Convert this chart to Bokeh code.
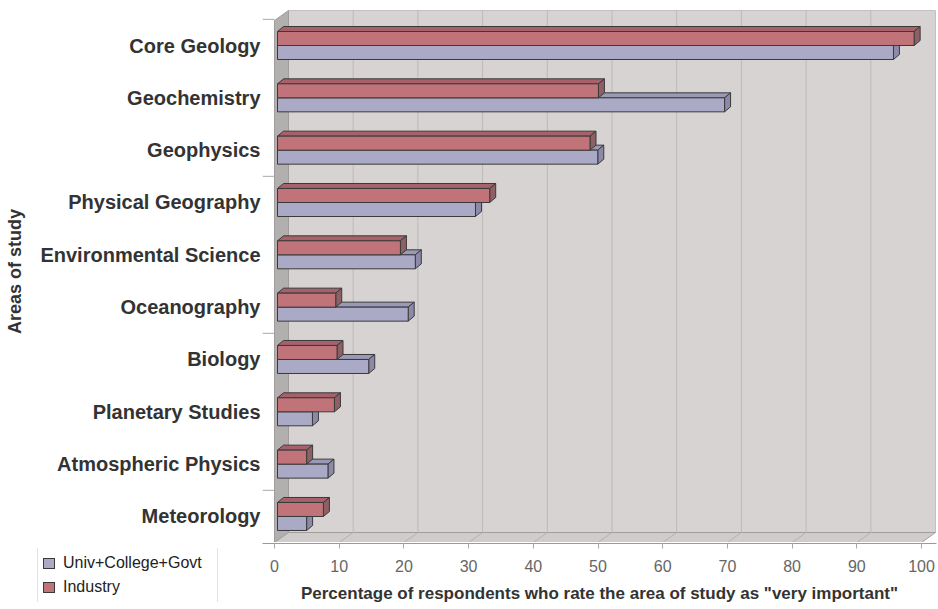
from bokeh.plotting import figure
from bokeh.layouts import column, row
from bokeh.models import Range1d, FixedTicker, ColumnDataSource, Div
from bokeh.embed import file_html
from bokeh.resources import INLINE

# ---------------- data ----------------
categories = ["Core Geology", "Geochemistry", "Geophysics", "Physical Geography",
              "Environmental Science", "Oceanography", "Biology", "Planetary Studies",
              "Atmospheric Physics", "Meteorology"]
industry = [98.4, 49.6, 48.3, 32.8, 19.0, 9.0, 9.2, 8.8, 4.5, 7.1]
univ = [95.2, 69.1, 49.5, 30.6, 21.3, 20.2, 14.1, 5.4, 7.8, 4.5]
series_names = ["Univ+College+Govt", "Industry"]
x_ticks = [0, 10, 20, 30, 40, 50, 60, 70, 80, 90, 100]
x_title = 'Percentage of respondents who rate the area of study as "very important"'
y_title = "Areas of study"

# ---------------- layout ----------------
W = 938
TOP_H = 542       # height of the chart part (frame bottom = floor front edge)
BOT_H = 67        # height of the axis / legend strip
FL = 262          # frame left (px)
FR = 2            # right border
FW = W - FL - FR  # frame width
S = 6.47          # px per percent
SY = 52.33        # px per category step
X0PX = 12         # px from frame left to value 0 on the front plane
TOPPX = 45        # px from frame top to first category centre

n = len(categories)
x_start = -X0PX / S
x_end = x_start + FW / S
y_end = (n - 1) + TOPPX / SY
y_start = y_end - TOP_H / SY

FONT = "Liberation Sans"
EDGE = "#3A3A3A"

p = figure(width=W, height=TOP_H, output_backend="svg", toolbar_location=None,
           x_range=Range1d(x_start, x_end), y_range=Range1d(y_start, y_end),
           x_axis_location=None,
           min_border_left=FL, min_border_right=FR, min_border_top=0,
           min_border_bottom=0)
p.outline_line_color = None
p.background_fill_color = "white"
p.border_fill_color = "white"
p.xgrid.visible = False
p.ygrid.visible = False

# ---------------- 3D walls ----------------
DX = 14 / S
DY = 10 / SY
floor_y = y_start
wall_top = y_end - 10 / SY
xmax = x_ticks[-1]

p.quad(left=DX, right=xmax + DX, bottom=floor_y + DY, top=wall_top,
       fill_color="#D8D3D3", line_color="#C4C0C0", line_width=1)
p.patch([0, 0, DX, DX], [floor_y, wall_top - DY, wall_top, floor_y + DY],
        fill_color="#B2AFAF", line_color="#A09C9C", line_width=1)
p.patch([0, DX, xmax + DX, xmax], [floor_y, floor_y + DY, floor_y + DY, floor_y],
        fill_color="#D0CCCC", line_color="#A29E9E", line_width=1)
inner = x_ticks[1:-1]
p.segment(x0=[t + DX for t in inner], y0=[floor_y + DY] * len(inner),
          x1=[t + DX for t in inner], y1=[wall_top] * len(inner),
          line_color="#BEB9B9", line_width=1)
p.segment(x0=inner, y0=[floor_y] * len(inner),
          x1=[t + DX for t in inner], y1=[floor_y + DY] * len(inner),
          line_color="#B5B1B1", line_width=1)
# category separator ticks (every third category)
seps = [(n - 1) + 0.5 - 3 * k for k in range(4)]
p.segment(x0=[x_start] * len(seps), y0=seps, x1=[0] * len(seps), y1=seps,
          line_color="#A8A8A8", line_width=1)

# ---------------- 3D bars ----------------
BX = 3 / S
BH = 14 / SY
BDX = 6 / S
BDY = 5 / SY
ypos = [n - 1 - i for i in range(n)]


def bar_sources(values, offset):
    yc = [y + offset for y in ypos]
    left = [BX] * n
    right = [BX + v for v in values]
    front = ColumnDataSource(dict(y=yc, left=left, right=right))
    tops, sides = dict(xs=[], ys=[]), dict(xs=[], ys=[])
    for c, l, r in zip(yc, left, right):
        yt, yb = c + BH / 2, c - BH / 2
        tops["xs"].append([l, l + BDX, r + BDX, r])
        tops["ys"].append([yt, yt + BDY, yt + BDY, yt])
        sides["xs"].append([r, r, r + BDX, r + BDX])
        sides["ys"].append([yb, yt, yt + BDY, yb + BDY])
    return front, ColumnDataSource(tops), ColumnDataSource(sides)


def draw(values, offset, c_front, c_top, c_side):
    front, tops, sides = bar_sources(values, offset)
    p.patches("xs", "ys", source=tops, fill_color=c_top, line_color=EDGE, line_width=1)
    p.patches("xs", "ys", source=sides, fill_color=c_side, line_color=EDGE, line_width=1)
    p.hbar(y="y", left="left", right="right", height=BH, source=front,
           fill_color=c_front, line_color=EDGE, line_width=1)


UNIV_C = ("#AAAAC6", "#9A9AB8", "#8C8AA8")
IND_C = ("#C0747A", "#A6616A", "#8E5F64")
draw(univ, -BH / 2, *UNIV_C)
draw(industry, BH / 2, *IND_C)

# ---------------- category axis ----------------
ya = p.yaxis[0]
ya.ticker = FixedTicker(ticks=ypos)
ya.major_label_overrides = {y: c for y, c in zip(ypos, categories)}
ya.axis_line_color = None
ya.major_tick_line_color = None
ya.minor_tick_line_color = None
ya.major_tick_out = 0
ya.major_tick_in = 0
ya.major_label_standoff = 2
ya.major_label_text_font = FONT
ya.major_label_text_font_size = "20px"
ya.major_label_text_font_style = "bold"
ya.major_label_text_color = "#333333"
ya.axis_label = y_title
ya.axis_label_text_font = FONT
ya.axis_label_text_font_size = "18px"
ya.axis_label_text_font_style = "bold"
ya.axis_label_text_color = "#333333"
ya.axis_label_standoff = 12

# ---------------- value axis (bottom strip) ----------------
ax = figure(width=FW + FR, height=BOT_H, output_backend="svg", toolbar_location=None,
            x_range=p.x_range, y_range=Range1d(0, 1), y_axis_location=None,
            min_border_left=0, min_border_right=FR, min_border_top=0,
            min_border_bottom=BOT_H - 1)
ax.outline_line_color = None
ax.xgrid.visible = False
ax.ygrid.visible = False
xa = ax.xaxis[0]
xa.ticker = FixedTicker(ticks=x_ticks)
xa.axis_line_color = "#9A9A9A"
xa.major_tick_line_color = "#A8A8A8"
xa.major_tick_out = 5
xa.major_tick_in = 0
xa.minor_tick_line_color = None
xa.major_label_standoff = 11
xa.major_label_text_font = FONT
xa.major_label_text_font_size = "16px"
xa.major_label_text_color = "#666666"
xa.axis_label = x_title
xa.axis_label_text_font = FONT
xa.axis_label_text_font_size = "17px"
xa.axis_label_text_font_style = "bold"
xa.axis_label_text_color = "#333333"
xa.axis_label_standoff = 9

# ---------------- legend (bottom-left strip) ----------------
def legend_entry(i, label, color):
    top = 12 + 24 * i
    return (f'<div style="position:absolute;left:43px;top:{top + 4}px;width:12px;'
            f'height:11px;box-sizing:border-box;background:{color};'
            f'border:1px solid {EDGE};"></div>'
            f'<div style="position:absolute;left:63px;top:{top}px;line-height:18px;'
            f'white-space:nowrap;">{label}</div>')


legend_html = (
    f'<div style="position:relative;width:{FL}px;height:{BOT_H}px;'
    f'font-family:\'{FONT}\';font-size:16px;color:#222222;">'
    '<div style="position:absolute;left:37px;top:6px;width:181px;height:54px;'
    'box-sizing:border-box;border-left:1px solid #E2E2E2;'
    'border-right:1px solid #E2E2E2;"></div>'
    + legend_entry(0, series_names[0], UNIV_C[0])
    + legend_entry(1, series_names[1], IND_C[0])
    + '</div>'
)
lg = Div(text=legend_html, width=FL, height=BOT_H, margin=0)

layout = column(p, row(lg, ax, spacing=0), spacing=0)
open("out.html", "w").write(file_html(layout, INLINE))
